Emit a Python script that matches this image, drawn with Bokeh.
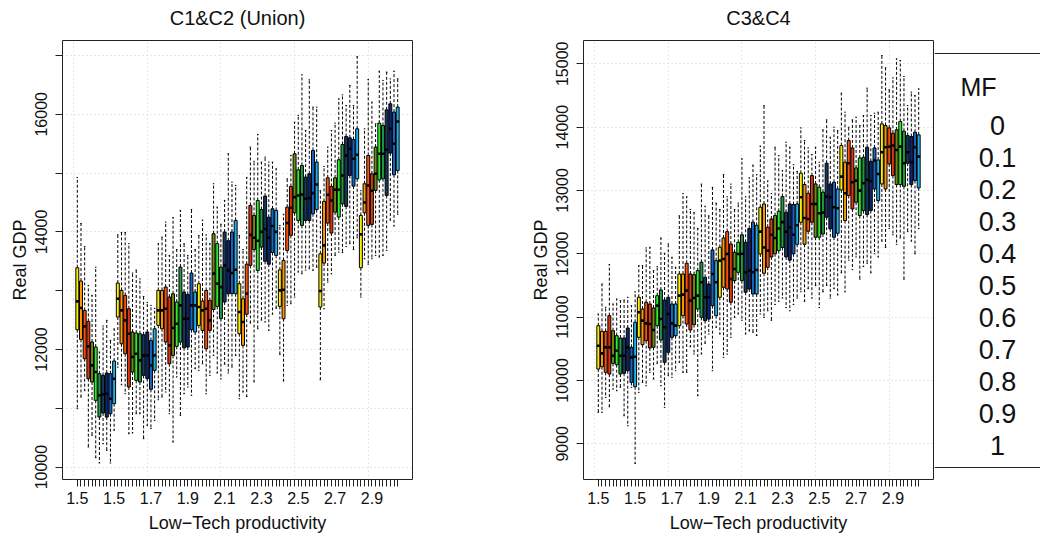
from bokeh.plotting import figure
from bokeh.layouts import row, column
from bokeh.models import Range1d, FixedTicker
from bokeh.embed import file_html
from bokeh.resources import INLINE
from bokeh.core.properties import value

# ---------------- data ----------------
LT_VALUES = [1.5, 1.7, 1.9, 2.1, 2.3, 2.5, 2.7, 2.9]
MF_LABELS = ["0", "0.1", "0.2", "0.3", "0.4", "0.5", "0.6", "0.7", "0.8", "0.9", "1"]
PANEL_TITLES = ["C1&C2 (Union)", "C3&C4"]

# C1&C2 (Union): one inner list per Low-Tech productivity value, 11 MF values each
c12_low = [
    [10993, 11192, 11300, 10342, 10540, 10160, 10070, 10398, 10285, 10070, 10625],
    [11700, 11400, 11250, 10568, 10580, 10908, 10908, 10483, 10710, 10655, 10795],
    [11146, 11192, 11277, 10908, 10427, 11532, 10880, 11248, 11362, 11220, 11674],
    [11645, 11758, 11248, 11560, 11900, 11600, 11500, 11750, 11600, 11700, 11900],
    [11163, 11277, 11200, 12450, 11450, 12353, 12500, 12467, 12325, 12600, 12700],
    [11917, 11464, 12750, 12778, 12892, 13317, 13288, 13350, 13373, 13345, 13400],
    [11486, 12693, 13147, 13288, 13600, 13657, 13650, 13750, 13800, 13700, 13900],
    [12892, 13543, 13450, 13543, 13600, 13572, 13600, 13685, 14200, 14100, 14300],
]
c12_q1 = [
    [12336, 12172, 11843, 11503, 11447, 11135, 10852, 10920, 10850, 10908, 11078],
    [12552, 12098, 11928, 11362, 11617, 11475, 11447, 11560, 11503, 11322, 11645],
    [12410, 12353, 12127, 11758, 11900, 12053, 12127, 12030, 12042, 12337, 12297],
    [12410, 12325, 12013, 12325, 12680, 12733, 12525, 12807, 12948, 12950, 12948],
    [12268, 12070, 12600, 13430, 13700, 13345, 13742, 13500, 13450, 13650, 13600],
    [12733, 12523, 13685, 13940, 14325, 14195, 14110, 14195, 14195, 14308, 14380],
    [12722, 13470, 14150, 13980, 14336, 14252, 14478, 14433, 14960, 14778, 14903],
    [13390, 14325, 14110, 14127, 14705, 14886, 14903, 14620, 15340, 14971, 15045],
]
c12_med = [
    [12818, 12705, 12393, 12053, 11730, 11617, 11220, 11237, 11248, 11163, 11503],
    [12863, 12665, 12495, 12268, 11872, 11928, 11815, 11900, 11900, 11730, 11900],
    [12665, 12665, 12693, 12070, 12365, 12438, 12750, 12523, 12523, 12750, 12750],
    [12722, 12665, 12693, 12495, 13290, 13120, 13060, 13430, 13345, 13300, 13357],
    [12637, 12467, 12950, 13950, 13900, 13850, 14000, 14050, 13900, 14100, 14000],
    [13005, 13017, 14150, 14410, 14592, 14620, 14637, 14563, 14575, 14660, 14807],
    [12994, 13770, 14631, 14535, 14716, 14716, 14960, 15300, 15413, 15243, 15311],
    [13957, 14500, 14790, 14700, 14988, 15328, 15328, 15396, 15753, 15498, 15878],
]
c12_q3 = [
    [13390, 13164, 12665, 12478, 12127, 12042, 11588, 11560, 11600, 11588, 11804],
    [13130, 13005, 12920, 12693, 12297, 12280, 12268, 12250, 12297, 12155, 12353],
    [13005, 13005, 13062, 12892, 12948, 12807, 13402, 12977, 12937, 13300, 12977],
    [13118, 12824, 13005, 12835, 13969, 13800, 13400, 13997, 13850, 13997, 14195],
    [13118, 12863, 13450, 14450, 14280, 14535, 14380, 14609, 14250, 14393, 14365],
    [13355, 13515, 14421, 14773, 15328, 15056, 15130, 14932, 14988, 15385, 15187],
    [13628, 14518, 14920, 14773, 14920, 15226, 15487, 15623, 15600, 15572, 15753],
    [14280, 14818, 15300, 14988, 15442, 15850, 15810, 16076, 16178, 16037, 16122],
]
c12_high = [
    [14926, 14144, 13750, 13090, 12920, 13400, 11957, 12400, 12495, 12155, 12350],
    [13950, 13990, 13990, 13800, 13300, 13350, 13200, 12900, 12800, 12750, 12700],
    [13800, 13911, 14166, 13600, 14245, 13700, 14365, 13800, 13600, 14382, 13700],
    [13940, 14200, 13950, 13800, 14819, 14422, 14130, 14535, 15329, 14846, 14790],
    [13940, 13700, 14926, 15442, 15200, 15657, 15187, 15272, 15187, 15187, 15073],
    [14110, 14300, 14903, 15300, 15866, 15980, 16671, 15725, 16586, 16122, 16122],
    [14700, 15113, 15442, 15725, 15850, 16263, 16331, 16150, 16490, 16150, 16980],
    [14700, 15753, 16592, 16207, 15838, 16734, 16575, 16717, 16603, 16734, 16603],
]

# C3&C4
c34_low = [
    [9496, 9496, 9733, 9585, 9864, 9838, 9891, 9443, 9285, 9891, 8690],
    [9812, 9970, 9917, 10128, 10022, 10270, 9917, 9575, 10075, 10049, 10154],
    [10286, 10128, 10128, 10533, 10417, 9759, 10417, 10586, 10733, 10154, 10839],
    [10733, 10365, 10417, 10681, 10997, 11049, 10950, 10733, 10780, 10760, 10710],
    [11050, 10995, 11100, 10950, 11200, 11250, 11300, 11150, 11100, 11200, 11300],
    [11400, 11250, 11450, 11300, 11500, 11150, 11400, 11500, 11300, 11450, 11350],
    [11700, 11400, 11900, 11750, 11950, 11600, 11800, 11850, 11700, 12000, 11950],
    [12200, 12100, 12400, 12300, 12150, 12250, 11600, 12350, 12200, 12000, 12400],
]
c34_q1 = [
    [10180, 10217, 10128, 10101, 10270, 10249, 10101, 10112, 10154, 9970, 9901],
    [10681, 10565, 10628, 10512, 10523, 10865, 10639, 10286, 10444, 10681, 10707],
    [10865, 11023, 10891, 10797, 10881, 11128, 10997, 10944, 10970, 11181, 11023],
    [11313, 11471, 11444, 11234, 11576, 11708, 11576, 11392, 11444, 11365, 11365],
    [11997, 11692, 11787, 11950, 12000, 12050, 12100, 11950, 11900, 12000, 12150],
    [12498, 12150, 12355, 12498, 12261, 12261, 12313, 12577, 12393, 12261, 12324],
    [13008, 12524, 12919, 12708, 12814, 12603, 12682, 12619, 12682, 13024, 12840],
    [13103, 13024, 13419, 13235, 13093, 13093, 13066, 13430, 13093, 13156, 13040],
]
c34_med = [
    [10549, 10428, 10523, 10523, 10391, 10470, 10391, 10391, 10523, 10365, 10375],
    [11076, 10944, 10902, 10891, 10797, 11181, 10970, 10839, 11049, 10902, 10865],
    [11339, 11355, 11418, 11260, 11302, 11339, 11550, 11313, 11313, 11681, 11550],
    [11892, 11918, 11997, 11602, 11760, 11997, 12000, 11708, 11734, 11708, 11745],
    [12350, 12100, 12050, 12300, 12250, 12400, 12500, 12350, 12420, 12300, 12450],
    [12893, 12566, 12550, 12787, 12787, 12640, 12650, 12903, 12893, 12735, 12719],
    [13219, 12956, 13430, 13130, 13156, 12998, 13114, 13167, 13146, 13472, 13261],
    [13604, 13683, 13693, 13709, 13640, 13693, 13430, 13604, 13446, 13683, 13535],
]
c34_q3 = [
    [10865, 10775, 10775, 11023, 10786, 10707, 10670, 10670, 10828, 10523, 10918],
    [11313, 11128, 11234, 11207, 11144, 11339, 11429, 11270, 11313, 11207, 11207],
    [11681, 11681, 11850, 11681, 11671, 11734, 11866, 11629, 11523, 12061, 11892],
    [12103, 12250, 12350, 12155, 12024, 12182, 12300, 12182, 12400, 12500, 12450],
    [12735, 12787, 12419, 12550, 12603, 12671, 12903, 12656, 12787, 12777, 12787],
    [13272, 13093, 12956, 13235, 13103, 13051, 12972, 13430, 13103, 13130, 13024],
    [13709, 13446, 13788, 13672, 13356, 13514, 13525, 13683, 13461, 13672, 13482],
    [14051, 14025, 13988, 13904, 13957, 14088, 13935, 13867, 13851, 13920, 13878],
]
c34_high = [
    [11049, 11523, 11155, 11829, 11207, 11286, 11260, 11270, 11313, 11181, 11400],
    [11813, 11813, 12092, 12103, 11734, 11797, 12250, 12008, 12155, 11945, 11787],
    [12600, 12950, 12900, 12700, 12650, 12400, 13100, 12750, 12600, 13050, 12800],
    [12700, 13250, 12900, 13100, 12700, 12800, 13500, 12900, 13200, 13400, 13250],
    [13700, 14341, 13150, 12950, 13683, 13550, 13313, 13762, 13683, 13408, 13300],
    [13988, 13788, 13672, 13567, 13683, 13446, 13957, 14115, 13841, 13999, 13946],
    [14536, 14236, 13999, 14115, 14157, 14025, 14183, 14615, 14183, 14220, 14236],
    [15131, 14936, 14589, 14778, 15078, 15052, 14799, 14341, 14552, 14499, 14604],
]

# ---------------- style ----------------
MF_COLORS = ["#FFEE00", "#FF9A00", "#FF5208", "#E0360E", "#6E8B12", "#2BEE2B",
             "#1F9A45", "#123A5E", "#0B2675", "#1566C8", "#1CB2EE"]
FONT = "Liberation Sans"
W = 1040
TITLE_H = 39          # strip holding the two panel titles
PLOT_H = 543 - TITLE_H
TOP, BOTTOM = 1, 64   # borders of the plot figures (frame top at page y = 40)


def flat(nested):
    return [v for grp in nested for v in grp]


def make_panel(low, q1, med, q3, high, y_start, y_end, yticks, ylabels,
               width, border_right):
    n_mf = len(MF_LABELS)
    pos = [g * n_mf + k + 1 for g in range(len(LT_VALUES)) for k in range(n_mf)]
    cols = [MF_COLORS[k] for g in range(len(LT_VALUES)) for k in range(n_mf)]
    lo, a, m, b, hi = flat(low), flat(q1), flat(med), flat(q3), flat(high)
    npos = len(pos)
    pad = 0.04 * npos
    p = figure(width=width, height=PLOT_H, output_backend="svg", toolbar_location=None,
               x_range=Range1d(0.5 - pad, npos + 0.5 + pad),
               y_range=Range1d(y_start, y_end),
               min_border_left=62, min_border_right=border_right,
               min_border_top=TOP, min_border_bottom=BOTTOM)
    p.background_fill_color = "white"
    p.border_fill_color = "white"
    p.outline_line_color = "#222222"
    p.outline_line_width = 1

    # whiskers
    p.segment(x0=pos, y0=b, x1=pos, y1=hi, line_color="black", line_width=1,
              line_dash="3 2")
    p.segment(x0=pos, y0=a, x1=pos, y1=lo, line_color="black", line_width=1,
              line_dash="3 2")
    # staples
    p.segment(x0=[x - 0.2 for x in pos], y0=hi, x1=[x + 0.2 for x in pos], y1=hi,
              line_color="black", line_width=1)
    p.segment(x0=[x - 0.2 for x in pos], y0=lo, x1=[x + 0.2 for x in pos], y1=lo,
              line_color="black", line_width=1)
    # boxes
    p.vbar(x=pos, width=0.8, top=b, bottom=a, fill_color=cols,
           line_color="black", line_width=1)
    # medians
    p.segment(x0=[x - 0.4 for x in pos], y0=m, x1=[x + 0.4 for x in pos], y1=m,
              line_color="black", line_width=2.6)

    # x axis
    xa = p.xaxis[0]
    xa.ticker = FixedTicker(ticks=pos)
    xa.major_label_overrides = {
        x: (str(LT_VALUES[(x - 1) // n_mf]) if (x - 1) % 10 == 0 else "") for x in pos}
    xa.axis_label = "Low\u2212Tech productivity"
    # y axis
    ya = p.yaxis[0]
    ya.ticker = FixedTicker(ticks=yticks)
    ya.major_label_overrides = {t: lab for t, lab in zip(yticks, ylabels)}
    ya.major_label_orientation = "vertical"
    ya.axis_label = "Real GDP"
    for ax in (xa, ya):
        ax.axis_line_color = None
        ax.major_tick_in = 0
        ax.major_tick_out = 7
        ax.major_tick_line_color = "#222222"
        ax.minor_tick_line_color = None
        ax.major_label_text_font = FONT
        ax.major_label_text_font_size = "16px"
        ax.major_label_text_color = "#111111"
        ax.axis_label_text_font = FONT
        ax.axis_label_text_font_size = "18px"
        ax.axis_label_text_font_style = "normal"
        ax.axis_label_text_color = "#111111"
    xa.major_label_standoff = 5
    xa.axis_label_standoff = 6
    ya.major_label_standoff = 8
    ya.axis_label_standoff = 3

    # grid
    p.xgrid.ticker = FixedTicker(ticks=[0, 20, 40, 60, 80])
    p.ygrid.ticker = FixedTicker(ticks=yticks)
    for gr in (p.xgrid, p.ygrid):
        gr.grid_line_color = "#cfcfcf"
        gr.grid_line_dash = "1 3"
        gr.grid_line_width = 1
    return p


left_ticks = [10000, 11000, 12000, 13000, 14000, 15000, 16000, 17000]
left_labels = ["10000", "", "12000", "", "14000", "", "16000", ""]
right_ticks = [9000, 10000, 11000, 12000, 13000, 14000, 15000]
right_labels = ["9000", "10000", "11000", "12000", "13000", "14000", "15000"]

p1 = make_panel(c12_low, c12_q1, c12_med, c12_q3, c12_high,
                9789, 17255, left_ticks, left_labels, width=521, border_right=109)
p2 = make_panel(c34_low, c34_q1, c34_med, c34_q3, c34_high,
                8436, 15368, right_ticks, right_labels, width=413, border_right=1)

# title strip (page coordinates: x 0..1040, y 0..39 from the top)
tstrip = figure(width=W, height=TITLE_H, output_backend="svg", toolbar_location=None,
                x_range=Range1d(0, W), y_range=Range1d(TITLE_H, 0),
                x_axis_location=None, y_axis_location=None, min_border=0)
tstrip.grid.visible = False
tstrip.outline_line_color = None
tstrip.background_fill_color = "white"
tstrip.border_fill_color = "white"
tstrip.text(x=[237, 758], y=[17, 17], text=PANEL_TITLES, text_align="center",
            text_baseline="middle", text_font=value(FONT), text_font_size="20px",
            text_color="#111111")

# legend panel (text only, as in the reference); page rows 40..479 = its frame
LEG_TOP = TITLE_H + TOP
LEG_BOT = TITLE_H + PLOT_H - BOTTOM
leg = figure(width=106, height=PLOT_H, output_backend="svg", toolbar_location=None,
             x_range=Range1d(0, 106), y_range=Range1d(LEG_BOT, LEG_TOP),
             x_axis_location=None, y_axis_location=None,
             min_border_left=0, min_border_right=0,
             min_border_top=TOP, min_border_bottom=BOTTOM)
leg.grid.visible = False
leg.outline_line_color = None
leg.background_fill_color = "white"
leg.border_fill_color = "white"
leg.segment(x0=[0, 0], y0=[53, 467], x1=[106, 106], y1=[53, 467],
            line_color="#222222", line_width=1)
leg.text(x=[44], y=[86], text=["MF"], text_align="center", text_baseline="middle",
         text_font=value(FONT), text_font_size="25px", text_color="#111111")
leg.text(x=[63] * len(MF_LABELS), y=[125 + 32 * i for i in range(len(MF_LABELS))],
         text=MF_LABELS, text_align="center", text_baseline="middle",
         text_font=value(FONT), text_font_size="27px", text_color="#111111")

layout = column(tstrip, row(p1, p2, leg))
open("out.html", "w").write(file_html(layout, INLINE))
